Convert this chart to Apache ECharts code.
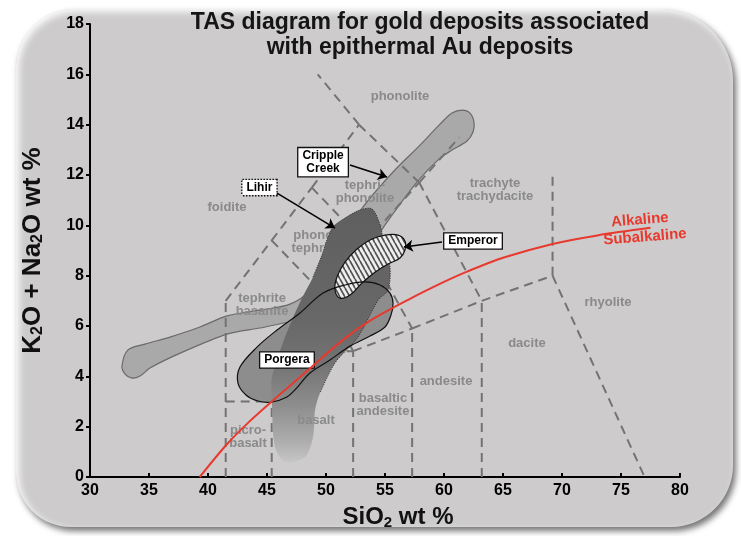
<!DOCTYPE html>
<html><head><meta charset="utf-8">
<script src="https://cdn.jsdelivr.net/npm/echarts@6/dist/echarts.min.js"></script>
<style>
html,body{margin:0;padding:0;background:#fff;width:741px;height:536px;overflow:hidden;}
#frame{position:absolute;left:16px;top:9px;width:717px;height:518px;border-radius:58px 72px 62px 55px;background:#cdcbcb;
box-shadow:3px 4px 6px rgba(0,0,0,0.55), inset 3px 3px 7px rgba(255,255,255,0.95);}
#chart{position:absolute;left:0;top:0;width:741px;height:536px;}
</style></head><body><div id="frame"></div><div id="chart"></div>
<script>
const FONT = '"Liberation Sans", Arial, sans-serif';
const xMin = 30, xMax = 80, xStep = 5;
const yMin = 0, yMax = 18, yStep = 2;

// Outline of the Cripple Creek field [SiO2, alkali]
const crippleCreek = [[33.22,5.05],[34.66,5.28],[36.78,5.56],[39.32,5.96],[41.61,6.40],[44.41,6.63],[46.95,6.87],[48.64,7.43],
[50.76,9.02],[53.14,10.73],[55.68,12.12],[57.97,13.19],[59.66,14.02],[60.68,14.46],[61.53,14.58],[62.20,14.46],[62.54,14.10],
[62.46,13.71],[61.95,13.35],[60.68,12.99],[59.66,12.67],[57.71,11.72],[55.17,10.13],[53.31,8.82],[51.61,7.63],[49.92,6.63],
[48.22,6.16],[46.95,6.16],[44.41,5.92],[41.61,5.68],[37.88,4.97],[35.08,4.33],[34.24,4.01],[33.56,3.93],[32.97,4.09],[32.71,4.41]];
// Lihir field
const lihir = [[50.59,9.93],[51.61,10.29],[52.88,10.61],[53.90,10.65],[54.58,10.01],[54.92,9.22],[55.42,8.34],[55.25,7.43],
[54.41,7.03],[52.71,5.56],[50.76,4.53],[49.49,3.34],[49.07,2.66],[48.90,1.59],[48.22,0.79],[46.53,0.60],[45.68,1.19],
[45.42,2.94],[45.42,3.97],[46.27,5.24],[47.12,6.24],[47.97,7.11],[48.90,7.95],[49.66,8.82],[50.08,9.42]];
// Porgera field
const porgera = [[42.54,3.73],[42.71,4.37],[44.15,5.16],[45.85,5.84],[47.80,6.52],[49.75,7.31],[51.61,7.63],[53.31,7.75],
[54.58,7.63],[55.42,7.31],[55.68,6.91],[55.51,6.44],[55.00,5.96],[53.73,5.60],[52.03,5.20],[50.34,4.65],[48.64,4.13],
[47.37,3.46],[46.69,3.18],[45.42,2.98],[44.24,3.02],[43.22,3.26]];
// Emperor field
const emperor = [[50.93,7.95],[51.61,8.54],[52.63,9.06],[53.73,9.42],[55.00,9.61],[56.10,9.61],[56.69,9.38],[56.69,9.02],
[56.27,8.70],[55.25,8.46],[54.15,8.14],[53.05,7.71],[52.03,7.23],[51.19,7.11],[50.76,7.43]];

// TAS field boundaries [x1, y1, x2, y2]
const boundaries = [
[41.5,0,41.5,7],[41.5,3,45.4,3],[45.4,0,45.4,5],[45.4,5,52.3,5],[52.3,0,52.3,5],[52.3,5,57.3,5.9],
[57.3,0,57.3,5.9],[57.3,5.9,63.2,7],[63.2,0,63.2,7],[63.2,7,69.2,8],[69.2,8,69.2,12],[69.2,8,77,0],
[45.4,5,49.7,7.3],[49.7,7.3,52.3,5],[49.7,7.3,53.3,9.3],[53.3,9.3,57.3,5.9],[53.3,9.3,57.9,11.7],
[57.9,11.7,63.2,7],[57.9,11.7,61.3,13.5],[41.5,7,45.4,9.4],[45.4,9.4,49.7,7.3],[45.4,9.4,48.8,11.5],
[48.8,11.5,53.3,9.3],[48.8,11.5,52.8,14],[52.8,14,57.9,11.7],[52.8,14,49.3,16]];

// Alkaline / subalkaline divide
const divideX = [39.3,41.6,43.5,45.4,48,51.3,53.7,57,60,62,65,69.2,73,77.5];
const divideY = [0,1.3,2.2,3.0,4.05,5.4,6.2,7.05,7.75,8.17,8.71,9.26,9.6,9.9];

// Rock field names
const fieldLabels = [
['phonolite',56.27,15.14],['tephri-\nphonolite',53.3,11.32],['foidite',41.61,10.73],['phono-\ntephrite',49.1,9.35],
['trachyte\ntrachydacite',64.32,11.4],['rhyolite',73.9,6.95],['dacite',67.03,5.32],['andesite',60.17,3.81],
['basaltic\nandesite',54.83,2.86],['picro-\nbasalt',43.39,1.59],['tephrite\nbasanite',44.58,6.83]];
const fieldLabelsTop = [['basalt',49.15,2.26]];
// Deposit labels
const boxLabels = [['Cripple\nCreek',49.75,12.51],['Lihir',44.36,11.5],['Emperor',62.46,9.38],['Porgera',46.69,4.65]];
const arrows = [[[52.03,12.40],[55.17,11.92]],[[45.85,11.28],[50.76,9.89]],[[59.83,9.34],[56.6,9.14]]];
const seriesLabels = [['Alkaline',76.6,10.21],['Subalkaline',77.03,9.53]];

// hatch pattern
const pc = document.createElement('canvas'); pc.width = 5; pc.height = 9;
const g = pc.getContext('2d'); g.fillStyle = '#eeeeee'; g.fillRect(0,0,5,9);
g.strokeStyle = '#505050'; g.lineWidth = 1.7;
[[0,0,5,9],[-5,0,0,9],[5,0,10,9]].forEach(l=>{g.beginPath();g.moveTo(l[0],l[1]);g.lineTo(l[2],l[3]);g.stroke();});
const hatch = {image: pc, repeat: 'repeat'};

function polySeries(points, makeEl) {
  return {type:'custom', data: points, encode:{x:0,y:1}, silent:true, animation:false,
    renderItem(params, api){ if (params.dataIndex !== 0) return; const pts = points.map(p=>api.coord(p)); return makeEl(pts); }};
}
function textSeries(list, styleFn) {
  return {type:'custom', data: list.map(f=>[f[1],f[2]]), encode:{x:0,y:1}, silent:true, animation:false,
    renderItem(params, api){ const p = api.coord([api.value(0), api.value(1)]); const f = list[params.dataIndex];
      return styleFn(f, p); }};
}
const fieldStyle = (f,p)=>({type:'text', x:p[0], y:p[1], style:{text:f[0], font:'bold 13px '+FONT, fill:'#8a8a8a',
  align:'center', verticalAlign:'middle', lineHeight:13}});

const chart = echarts.init(document.getElementById('chart'), null, {renderer:'canvas'});
chart.setOption({
  backgroundColor:'transparent',
  animation:false,
  title:{text:'TAS diagram for gold deposits associated\nwith epithermal Au deposits', left:415, top:5, textAlign:'center',
    textStyle:{fontSize:23, fontWeight:'bold', lineHeight:25, color:'#151515', fontFamily:FONT}},
  grid:{left:90, right:61, top:24, bottom:59, outerBoundsMode:'none'},
  xAxis:{type:'value', min:xMin, max:xMax, interval:xStep, splitLine:{show:false},
    axisLine:{lineStyle:{color:'#000', width:2}}, axisTick:{inside:true, length:4, lineStyle:{color:'#000', width:2}},
    axisLabel:{color:'#000', fontSize:16, fontWeight:'bold', fontFamily:FONT, margin:6},
    name:'{a|SiO}{s|2}{a| wt %}', nameLocation:'middle', nameGap:27,
    nameTextStyle:{padding:[0,0,0,26], rich:{a:{fontSize:24, fontWeight:'bold', color:'#111', fontFamily:FONT, lineHeight:26},
      s:{fontSize:15, fontWeight:'bold', color:'#111', fontFamily:FONT, lineHeight:8, verticalAlign:'bottom'}}}},
  yAxis:{type:'value', min:yMin, max:yMax, interval:yStep, splitLine:{show:false},
    axisLine:{lineStyle:{color:'#000', width:2}}, axisTick:{length:4, lineStyle:{color:'#000', width:2}},
    axisLabel:{color:'#000', fontSize:16, fontWeight:'bold', fontFamily:FONT, margin:6},
    name:'{a|K}{s|2}{a|O + Na}{s|2}{a|O wt %}', nameLocation:'middle', nameGap:44,
    nameTextStyle:{rich:{a:{fontSize:26, fontWeight:'bold', color:'#111', fontFamily:FONT, lineHeight:27},
      s:{fontSize:16, fontWeight:'bold', color:'#111', fontFamily:FONT, lineHeight:8, verticalAlign:'bottom'}}}},
  series:[
    polySeries(crippleCreek, pts=>({type:'polygon', shape:{points:pts, smooth:0.3},
      style:{fill:'#a9a9a9', stroke:'#6a6a6a', lineWidth:1.2}})),
    textSeries(fieldLabels, fieldStyle),
    {type:'custom', data:boundaries, encode:{x:[0,2], y:[1,3]}, silent:true, animation:false,
      renderItem(params, api){ const a = api.coord([api.value(0), api.value(1)]); const b = api.coord([api.value(2), api.value(3)]);
        return {type:'line', shape:{x1:a[0], y1:a[1], x2:b[0], y2:b[1]}, style:{stroke:'#737373', lineWidth:2, lineDash:[9,6]}}; }},
    polySeries(porgera, pts=>({type:'polygon', shape:{points:pts, smooth:0.35}, style:{fill:'#8d8d8d', stroke:null}})),
    polySeries(lihir, pts=>({type:'group', children:[
      {type:'polygon', shape:{points:pts, smooth:0.3}, style:{stroke:null,
        fill:new echarts.graphic.LinearGradient(0,0,0,1,[{offset:0,color:'#5f5f5f'},{offset:0.45,color:'#686868'},
          {offset:0.62,color:'#747474'},{offset:0.78,color:'#8e8e8e'},{offset:0.92,color:'#aeaeae'},{offset:1,color:'#c6c6c6'}])}},
      {type:'polyline', shape:{points:[pts[22],pts[23],pts[24]].concat(pts.slice(0,12)), smooth:0.3},
        style:{fill:null, stroke:'#333', lineWidth:1, lineDash:[1.2,1.2]}}]})),
    textSeries(fieldLabelsTop, fieldStyle),
    polySeries(emperor, pts=>({type:'polygon', shape:{points:pts, smooth:0.4}, style:{fill:hatch, stroke:'#111', lineWidth:1.2}})),
    polySeries(porgera, pts=>({type:'polygon', shape:{points:pts, smooth:0.35}, style:{fill:null, stroke:'#111', lineWidth:1.2}})),
    {type:'line', data:divideX.map((x,i)=>[x, divideY[i]]), smooth:0.3, showSymbol:false, symbol:'none', silent:true,
      lineStyle:{color:'#e8392e', width:2}, z:3},
    textSeries(seriesLabels, (f,p)=>({type:'text', x:p[0], y:p[1], rotation:0.08, style:{text:f[0], font:'bold 15px '+FONT,
      fill:'#e8392e', align:'center', verticalAlign:'middle'}})),
    {type:'lines', coordinateSystem:'cartesian2d', data:arrows.map(a=>({coords:a})), symbol:['none','arrow'], symbolSize:9,
      silent:true, animation:false, lineStyle:{color:'#000', width:1.5, opacity:1, curveness:0}, z:4},
    textSeries(boxLabels, (f,p)=>({type:'text', x:p[0], y:p[1], z2:10, style:{text:f[0], font:'bold 12px '+FONT, fill:'#000',
      align:'center', verticalAlign:'middle', lineHeight:13, backgroundColor:'#fff', borderColor:'#111', borderWidth:1.3,
      padding:[1,4,1,4], borderDash: f[0]==='Lihir' ? [1.5,1.5] : null}}))
  ].map((s,i)=>Object.assign({z: 2 + i*0.01}, s))
});
</script></body></html>
